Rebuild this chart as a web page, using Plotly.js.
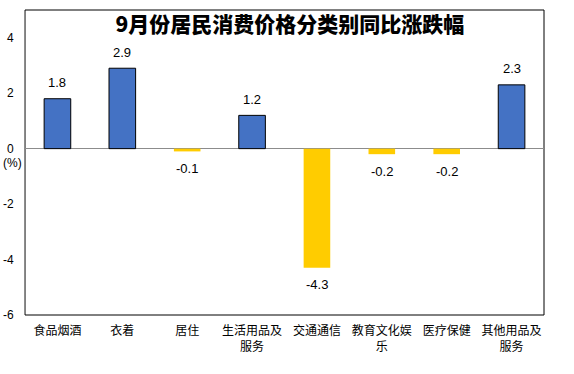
<!DOCTYPE html>
<html><head><meta charset="utf-8">
<script src="https://cdn.plot.ly/plotly-3.0.1.min.js"></script>
<style>html,body{margin:0;padding:0;background:#fff;}#chart{width:574px;height:374px;}</style>
</head><body><div id="chart"></div>
<script>
const categories = ["食品烟酒","衣着","居住","生活用品及<br>服务","交通通信","教育文化娱<br>乐","医疗保健","其他用品及<br>服务"];
const values = [1.8, 2.9, -0.1, 1.2, -4.3, -0.2, -0.2, 2.3];
const labels = ["1.8","2.9","-0.1","1.2","-4.3","-0.2","-0.2","2.3"];
const yTicks = [-6,-4,-2,0,2,4];

const FONT = "Liberation Sans, Arial, Noto Sans CJK SC, sans-serif";
const colors = values.map(v => v >= 0 ? "#4472C4" : "#FFCC00");
const lineW = values.map(v => v >= 0 ? 1 : 0);

const trace = {
  type: "bar",
  x: categories,
  y: values,
  marker: {color: colors, line: {color: "#000000", width: lineW}},
  hoverinfo: "none"
};

const ann = values.map((v, i) => ({
  x: categories[i], y: v, xref: "x", yref: "y",
  text: labels[i], showarrow: false,
  yshift: v >= 0 ? 16 : -17,
  font: {family: FONT, size: 13, color: "#000"}
}));
ann.push({
  x: 0, y: 0, xref: "paper", yref: "y", text: "(%)", showarrow: false,
  xanchor: "right", xshift: -1, yshift: -14,
  font: {family: FONT, size: 12, color: "#000"}
});

const layout = {
  width: 574, height: 374,
  margin: {l: 25, r: 30, t: 10, b: 59},
  paper_bgcolor: "#fff", plot_bgcolor: "#fff",
  showlegend: false,
  bargap: 0.59,
  title: {
    text: "9月份居民消费价格分类别同比涨跌幅",
    x: 0.505, xref: "container", xanchor: "center",
    y: 1 - 25/374, yref: "container", yanchor: "middle",
    font: {family: "Noto Sans CJK SC, sans-serif", size: 21, color: "#000", weight: 900}
  },
  xaxis: {
    showgrid: false, zeroline: false, showline: false,
    ticks: "", ticklabelstandoff: 7,
    tickfont: {family: "Noto Sans CJK SC, sans-serif", size: 12, color: "#000"},
    tickangle: 0, fixedrange: true
  },
  yaxis: {
    range: [-6, 5], tickvals: yTicks, ticktext: yTicks.map(String),
    showgrid: false, zeroline: true, zerolinecolor: "#8c8c8c", zerolinewidth: 1,
    showline: true, linecolor: "#8c8c8c", linewidth: 1,
    ticks: "", ticklabelstandoff: 8,
    tickfont: {family: FONT, size: 12, color: "#000"}, fixedrange: true
  },
  shapes: [{
    type: "rect", xref: "paper", yref: "paper", x0: 0, x1: 1, y0: 0, y1: 1,
    line: {color: "#000", width: 1}, layer: "below"
  }],
  annotations: ann
};

Plotly.newPlot("chart", [trace], layout, {displayModeBar: false, staticPlot: true});
</script>
</body></html>
